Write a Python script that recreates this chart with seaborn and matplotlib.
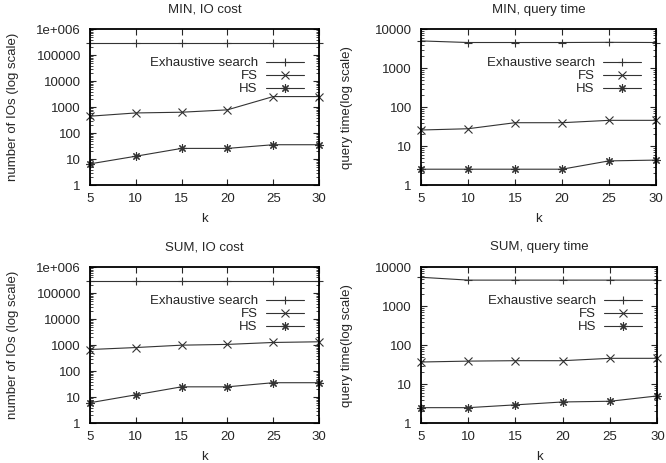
import matplotlib
matplotlib.use('Agg')
import matplotlib.pyplot as plt
import matplotlib.ticker as mticker
import seaborn as sns
import pandas as pd

# data
k = [5, 10, 15, 20, 25, 30]
methods = ['Exhaustive search', 'FS', 'HS']

min_io_ex = [300000, 300000, 300000, 300000, 300000, 300000]
min_io_fs = [450, 600, 640, 790, 2560, 2560]
min_io_hs = [6.6, 13, 26, 26, 36, 36]

min_qt_ex = [5000, 4550, 4550, 4550, 4600, 4550]
min_qt_fs = [26, 28, 40, 40, 46, 46]
min_qt_hs = [2.57, 2.57, 2.57, 2.57, 4.2, 4.4]

sum_io_ex = [300000, 300000, 300000, 300000, 300000, 300000]
sum_io_fs = [680, 810, 1000, 1070, 1270, 1350]
sum_io_hs = [6.1, 12.3, 25, 25, 36, 36]

sum_qt_ex = [5500, 4650, 4650, 4650, 4650, 4650]
sum_qt_fs = [37, 39, 40, 40, 46, 46]
sum_qt_hs = [2.5, 2.5, 2.95, 3.5, 3.65, 5.0]

titles = ['MIN, IO cost', 'MIN, query time', 'SUM, IO cost', 'SUM, query time']
ylabels = ['number of IOs (log scale)', 'query time(log scale)',
           'number of IOs (log scale)', 'query time(log scale)']
ytops = [1e6, 1e4, 1e6, 1e4]
panels = [
    (min_io_ex, min_io_fs, min_io_hs),
    (min_qt_ex, min_qt_fs, min_qt_hs),
    (sum_io_ex, sum_io_fs, sum_io_hs),
    (sum_qt_ex, sum_qt_fs, sum_qt_hs),
]

sns.set_style('ticks')
plt.rcParams['font.family'] = ['Liberation Sans', 'DejaVu Sans']
plt.rcParams['font.size'] = 9.5
plt.rcParams['xtick.direction'] = 'in'
plt.rcParams['ytick.direction'] = 'in'
plt.rcParams['xtick.top'] = True
plt.rcParams['ytick.right'] = True

FS = 9.5
markers = {'Exhaustive search': '+', 'FS': 'x', 'HS': (8, 2, 0)}
line_color = '#333333'

fig = plt.figure(figsize=(6.66, 4.63), dpi=100)
rects = [
    [0.135, 0.600, 0.344, 0.337],
    [0.632, 0.600, 0.353, 0.337],
    [0.135, 0.086, 0.344, 0.337],
    [0.632, 0.086, 0.355, 0.337],
]
ylabelpads = [12, 16, 12, 16]


def log_fmt(v, pos):
    if v >= 1e6:
        return '1e+006'
    return f'{int(round(v))}'


for i, (rect, series) in enumerate(zip(rects, panels)):
    ax = fig.add_axes(rect)
    rows = []
    for name, vals in zip(methods, series):
        for kk, v in zip(k, vals):
            rows.append({'k': kk, 'value': v, 'method': name})
    df = pd.DataFrame(rows)
    for name in methods:
        sub = df[df['method'] == name]
        sns.lineplot(data=sub, x='k', y='value', ax=ax, color=line_color,
                     linewidth=0.8, marker=markers[name], markersize=6,
                     markeredgewidth=0.8, markeredgecolor=line_color,
                     label=name, clip_on=False)
    ax.set_yscale('log')
    ax.set_xlim(5, 30)
    ax.set_ylim(1, ytops[i])
    ax.set_xticks(k)
    ax.yaxis.set_major_locator(mticker.LogLocator(base=10, numticks=10))
    ax.yaxis.set_minor_locator(mticker.LogLocator(base=10, subs=range(2, 10), numticks=20))
    ax.yaxis.set_major_formatter(mticker.FuncFormatter(log_fmt))
    ax.yaxis.set_minor_formatter(mticker.NullFormatter())
    ax.tick_params(which='major', length=4.5, width=0.8, labelsize=FS)
    ax.tick_params(axis='y', which='major', pad=6.5)
    ax.tick_params(axis='x', which='major', pad=5.5)
    ax.tick_params(which='minor', length=2.5, width=0.6)
    for sp in ax.spines.values():
        sp.set_linewidth(1.3)
        sp.set_color('black')
    ax.set_title(titles[i], fontsize=FS, pad=12)
    ax.set_xlabel('k', fontsize=FS, labelpad=6)
    ax.set_ylabel(ylabels[i], fontsize=FS, labelpad=ylabelpads[i])
    ax.legend(loc='upper right', bbox_to_anchor=(0.975, 0.88), markerfirst=False,
              frameon=False, fontsize=FS, handlelength=2.9, handletextpad=0.6,
              labelspacing=0.05, borderpad=0.2)

fig.savefig('out.png', dpi=100)
